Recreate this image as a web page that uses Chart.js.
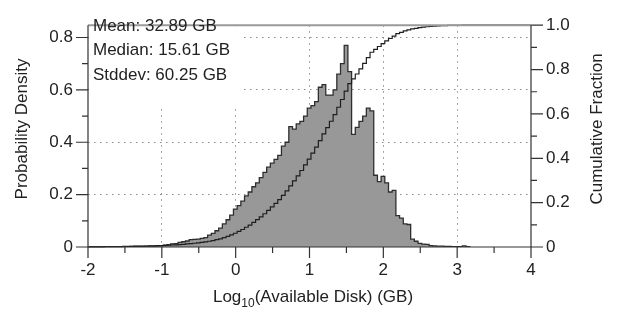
<!DOCTYPE html>
<html><head><meta charset="utf-8">
<script src="https://cdn.jsdelivr.net/npm/chart.js@4.4.1/dist/chart.umd.min.js"></script>
<style>html,body{margin:0;padding:0;background:#fff;}#wrap{width:618px;height:311px;position:relative;}</style>
</head><body><div id="wrap"><canvas id="c" width="618" height="311"></canvas></div>
<script>
// ---- data ----
const binStart = -1.98;   // left edge of first histogram bin (log10 GB)
const binWidth = 0.05;
const density = [
  0.0005,0.0005,0.0005,0.0005,0.001,0.001,0.001,0.001,0.001,0.001,
  0.001,0.002,0.002,0.002,0.002,0.003,0.003,0.003,0.004,0.005,
  0.007,0.009,0.012,0.013,0.018,0.020,0.023,0.028,0.029,0.030,
  0.033,0.036,0.045,0.052,0.062,0.072,0.088,0.104,0.122,0.145,
  0.158,0.175,0.195,0.21,0.23,0.245,0.265,0.285,0.305,0.32,
  0.335,0.35,0.385,0.40,0.46,0.45,0.47,0.48,0.50,0.53,
  0.54,0.555,0.61,0.62,0.58,0.58,0.60,0.66,0.70,0.77,
  0.67,0.43,0.457,0.48,0.50,0.53,0.52,0.274,0.25,0.27,
  0.245,0.21,0.216,0.12,0.11,0.088,0.086,0.03,0.022,0.014,
  0.011,0.010,0.005,0.004,0.003,0.003,0.002,0.002,0.001,0.001,
  0.001,0.004,0.001
];
const cumulative = [
  0.0005,0.001,0.001,0.001,0.0015,0.0015,0.002,0.002,0.002,0.0025,
  0.003,0.003,0.0035,0.004,0.004,0.0045,0.005,0.005,0.006,0.006,
  0.007,0.008,0.009,0.010,0.011,0.012,0.014,0.015,0.017,0.019,
  0.021,0.023,0.026,0.029,0.033,0.037,0.042,0.048,0.055,0.062,
  0.070,0.079,0.089,0.099,0.111,0.123,0.136,0.150,0.165,0.181,
  0.197,0.214,0.233,0.253,0.276,0.298,0.321,0.345,0.370,0.396,
  0.423,0.450,0.480,0.510,0.538,0.567,0.597,0.630,0.665,0.703,
  0.737,0.758,0.780,0.803,0.828,0.854,0.878,0.891,0.904,0.917,
  0.929,0.940,0.951,0.962,0.968,0.974,0.979,0.983,0.986,0.989,
  0.991,0.993,0.995,0.996,0.997,0.998,0.998,0.999,0.999,0.999,
  0.999,1.0,1.0
];
const xTicks = [-2,-1,0,1,2,3,4];
const xTickLabels = ['-2','-1','0','1','2','3','4'];
const xMinorTicks = [-1.5,-0.5,0.5,1.5,2.5,3.5];
const leftTicks = [0,0.2,0.4,0.6,0.8];
const leftTickLabels = ['0','0.2','0.4','0.6','0.8'];
const leftMinorTicks = [0.1,0.3,0.5,0.7];
const rightTicks = [0,0.2,0.4,0.6,0.8,1.0];
const rightTickLabels = ['0','0.2','0.4','0.6','0.8','1.0'];
const rightMinorTicks = [0.1,0.3,0.5,0.7,0.9];
const statLines = ['Mean: 32.89 GB','Median: 15.61 GB','Stddev: 60.25 GB'];
const xTitleMain = 'Log', xTitleSub = '10', xTitleRest = '(Available Disk) (GB)';
const yLeftTitle = 'Probability Density';
const yRightTitle = 'Cumulative Fraction';

// ---- build library data ----
const FONT = "'Liberation Sans', Arial, Helvetica, sans-serif";
const TXT = '#222';
const histPts = [{x: binStart, y: 0}];
density.forEach((d, i) => histPts.push({x: binStart + i * binWidth, y: d}));
histPts.push({x: binStart + density.length * binWidth, y: 0});

const cumPts = [{x: -2, y: 0}];
cumulative.forEach((c, i) => cumPts.push({x: binStart + i * binWidth, y: c}));
cumPts.push({x: binStart + cumulative.length * binWidth, y: cumulative[cumulative.length - 1]});
cumPts.push({x: 4, y: cumulative[cumulative.length - 1]});

Chart.defaults.font.family = FONT;
Chart.defaults.font.size = 17;
Chart.defaults.color = TXT;

const deco = {
  id: 'deco',
  beforeDatasetsDraw(chart) {
    const {ctx, chartArea: a} = chart;
    ctx.save();
    ctx.fillStyle = '#fff';
    ctx.fillRect(a.left + 1, a.top + 1, 153, 81);
    ctx.restore();
  },
  afterDraw(chart) {
    const {ctx, chartArea: a, scales} = chart;
    const xs = scales.x, yl = scales.y, yr = scales.y2;
    ctx.save();
    // frame
    ctx.strokeStyle = '#9a9a9a';
    ctx.lineWidth = 2;
    ctx.beginPath(); ctx.moveTo(a.left, a.top); ctx.lineTo(a.right, a.top); ctx.stroke();
    ctx.strokeStyle = '#333';
    ctx.lineWidth = 1.2;
    ctx.beginPath();
    ctx.moveTo(a.left, a.top); ctx.lineTo(a.left, a.bottom); ctx.lineTo(a.right, a.bottom); ctx.lineTo(a.right, a.top);
    ctx.stroke();
    // ticks
    ctx.beginPath();
    xTicks.forEach(v => { const p = xs.getPixelForValue(v); ctx.moveTo(p, a.bottom); ctx.lineTo(p, a.bottom + 11); });
    xMinorTicks.forEach(v => { const p = xs.getPixelForValue(v); ctx.moveTo(p, a.bottom); ctx.lineTo(p, a.bottom + 6); });
    leftTicks.forEach(v => { const p = yl.getPixelForValue(v); ctx.moveTo(a.left - 12, p); ctx.lineTo(a.left, p); });
    leftMinorTicks.forEach(v => { const p = yl.getPixelForValue(v); ctx.moveTo(a.left - 6, p); ctx.lineTo(a.left, p); });
    rightTicks.forEach(v => { const p = yr.getPixelForValue(v); ctx.moveTo(a.right, p); ctx.lineTo(a.right + 12, p); });
    rightMinorTicks.forEach(v => { const p = yr.getPixelForValue(v); ctx.moveTo(a.right, p); ctx.lineTo(a.right + 6, p); });
    ctx.stroke();
    // stats text
    ctx.fillStyle = TXT;
    ctx.font = '17px ' + FONT;
    ctx.textAlign = 'left';
    ctx.textBaseline = 'alphabetic';
    const bases = [30.5, 55, 79.5];
    statLines.forEach((s, i) => ctx.fillText(s, a.left + 5, bases[i]));
    // x title with subscript
    ctx.font = '17px ' + FONT;
    const w1 = ctx.measureText(xTitleMain).width;
    const w3 = ctx.measureText(xTitleRest).width;
    ctx.font = '12px ' + FONT;
    const w2 = ctx.measureText(xTitleSub).width;
    const total = w1 + w2 + w3;
    let x0 = 313 - total / 2;
    const base = 302;
    ctx.font = '17px ' + FONT;
    ctx.fillText(xTitleMain, x0, base);
    ctx.font = '12px ' + FONT;
    ctx.fillText(xTitleSub, x0 + w1, base + 5);
    ctx.font = '17px ' + FONT;
    ctx.fillText(xTitleRest, x0 + w1 + w2, base);
    // y titles
    ctx.textAlign = 'center';
    ctx.textBaseline = 'middle';
    ctx.save(); ctx.translate(22, 129); ctx.rotate(-Math.PI / 2); ctx.fillText(yLeftTitle, 0, 0); ctx.restore();
    ctx.save(); ctx.translate(597, 129); ctx.rotate(-Math.PI / 2); ctx.fillText(yRightTitle, 0, 0); ctx.restore();
    ctx.restore();
  }
};

const gridCol = (edgeVals) => (ctx) => (ctx.tick && edgeVals.includes(ctx.tick.value)) ? 'rgba(0,0,0,0)' : '#8a8a8a';

new Chart(document.getElementById('c'), {
  type: 'line',
  data: {
    datasets: [
      {
        label: 'Cumulative Fraction', data: cumPts, yAxisID: 'y2', order: 0,
        stepped: true, borderColor: '#1e1e1e', borderWidth: 1.2, pointRadius: 0, fill: false, clip: 4
      },
      {
        label: 'Probability Density', data: histPts, yAxisID: 'y', order: 1,
        stepped: true, borderColor: '#2e2e2e', borderWidth: 1.3, backgroundColor: '#989898',
        pointRadius: 0, fill: 'origin'
      }
    ]
  },
  options: {
    responsive: false, animation: false, devicePixelRatio: 1,
    layout: {padding: {top: 11, left: 0, right: 0, bottom: 0}},
    plugins: {legend: {display: false}, tooltip: {enabled: false}},
    scales: {
      x: {
        type: 'linear', min: -2, max: 4, position: 'bottom',
        afterBuildTicks: s => { s.ticks = xTicks.map(v => ({value: v})); },
        afterFit: s => { s.height = 64; },
        ticks: {padding: 13, maxRotation: 0, autoSkip: false,
          callback: (v) => xTickLabels[xTicks.indexOf(v)]},
        grid: {drawTicks: false, color: gridCol([-2, 4]), lineWidth: 1},
        border: {display: false, dash: [1.5, 4.5]}
      },
      y: {
        type: 'linear', min: 0, max: 0.847, position: 'left',
        afterBuildTicks: s => { s.ticks = leftTicks.map(v => ({value: v})); },
        afterFit: s => { s.width = 88; },
        ticks: {padding: 15, callback: (v) => leftTickLabels[leftTicks.indexOf(v)]},
        grid: {drawTicks: false, color: gridCol([0]), lineWidth: 1},
        border: {display: false, dash: [1.5, 4.5]}
      },
      y2: {
        type: 'linear', min: 0, max: 1, position: 'right',
        afterBuildTicks: s => { s.ticks = rightTicks.map(v => ({value: v})); },
        afterFit: s => { s.width = 87; },
        ticks: {padding: 15, callback: (v) => rightTickLabels[rightTicks.indexOf(v)]},
        grid: {display: false, drawTicks: false},
        border: {display: false}
      }
    }
  },
  plugins: [deco]
});
</script>
</body></html>
